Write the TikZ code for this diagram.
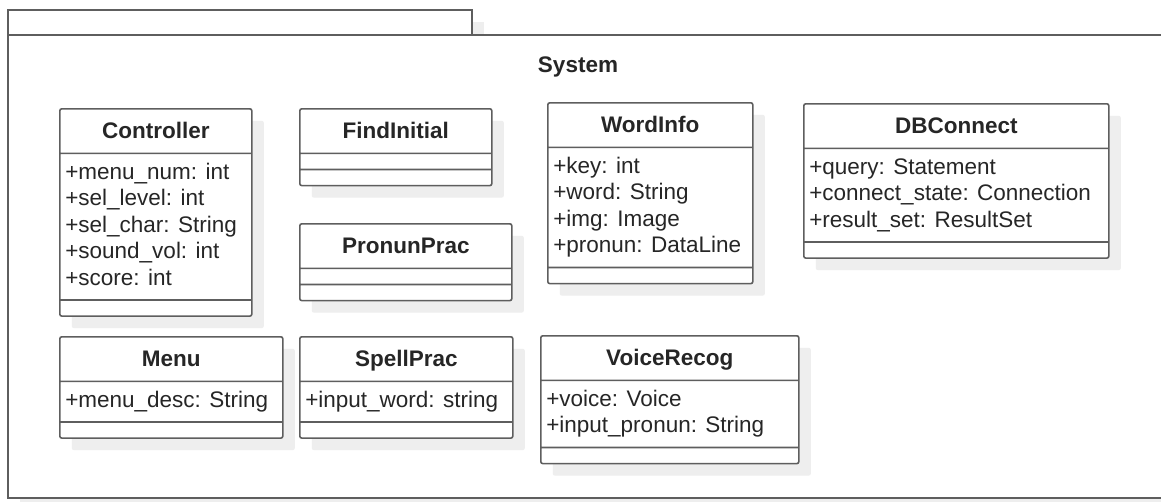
\documentclass[tikz,border=0pt]{standalone}
\usepackage{fontspec}
\setmainfont{Liberation Sans}
\usetikzlibrary{shapes.multipart,shadows}

\definecolor{lineGray}{HTML}{5E5E5E}
\definecolor{textGray}{HTML}{262626}
\definecolor{shadowGray}{HTML}{EEEEEE}

% class compartments
\newcommand{\hdr}[1]{\rule[-7.75pt]{0pt}{30.5pt}\textbf{#1}}
\newcommand{\attr}[1]{\begin{tabular}{@{}l@{}}#1\end{tabular}}
\newcommand{\emptypart}{\rule{0pt}{2pt}}

\begin{document}
\begin{tikzpicture}[x=1pt,y=-1pt,
  frame/.style={draw=lineGray,line width=1.6pt,fill=white},
  umlclass/.style={rectangle split,rectangle split parts=3,
    rectangle split part align={center,left,left},
    draw=lineGray,line width=1.6pt,rounded corners=2pt,fill=white,
    text=textGray,font=\fontsize{22.5}{26.5}\selectfont,
    inner xsep=5.5pt,inner ysep=6.25pt,anchor=north west,
    drop shadow={shadow xshift=12pt,shadow yshift=-12pt,fill=shadowGray,opacity=1}}]

\useasboundingbox (0,0) rectangle (1161,501);
\clip (0,0) rectangle (1161,501);

%package System, with its shadow
\fill[shadowGray] (20,22) rectangle (484,47);
\fill[shadowGray] (20,47) rectangle (1190,512);
\draw[frame] (8,10) rectangle (472,35);
\draw[frame] (8,35) rectangle (1175,498);
\node[text=textGray,font=\fontsize{22.5}{26.5}\selectfont\bfseries] (sys) at (578,67) {System};

%first row
\node[umlclass,minimum width=192pt] (ctrl) at (59,108)
  {\hdr{Controller}
   \nodepart{second}\attr{+menu\_num: int\\+sel\_level: int\\+sel\_char: String\\+sound\_vol: int\\+score: int}
   \nodepart{third}\emptypart};
\node[umlclass,minimum width=192pt] (find) at (299,108)
  {\hdr{FindInitial}
   \nodepart{second}\emptypart
   \nodepart{third}\emptypart};
\node[umlclass,minimum width=212pt] (pron) at (299,223)
  {\hdr{PronunPrac}
   \nodepart{second}\emptypart
   \nodepart{third}\emptypart};
\node[umlclass,minimum width=205pt] (word) at (547,102)
  {\hdr{WordInfo}
   \nodepart{second}\attr{+key: int\\+word: String\\+img: Image\\+pronun: DataLine}
   \nodepart{third}\emptypart};
\node[umlclass,minimum width=305pt] (db) at (803,103)
  {\hdr{DBConnect}
   \nodepart{second}\attr{+query: Statement\\+connect\_state: Connection\\+result\_set: ResultSet}
   \nodepart{third}\emptypart};

%second row
\node[umlclass,minimum width=223pt] (menu) at (59,336)
  {\hdr{Menu}
   \nodepart{second}\attr{+menu\_desc: String}
   \nodepart{third}\emptypart};
\node[umlclass,minimum width=213pt] (spell) at (299,336)
  {\hdr{SpellPrac}
   \nodepart{second}\attr{+input\_word: string}
   \nodepart{third}\emptypart};
\node[umlclass,minimum width=258pt] (voice) at (540,335)
  {\hdr{VoiceRecog}
   \nodepart{second}\attr{+voice: Voice\\+input\_pronun: String}
   \nodepart{third}\emptypart};

\end{tikzpicture}
\end{document}
